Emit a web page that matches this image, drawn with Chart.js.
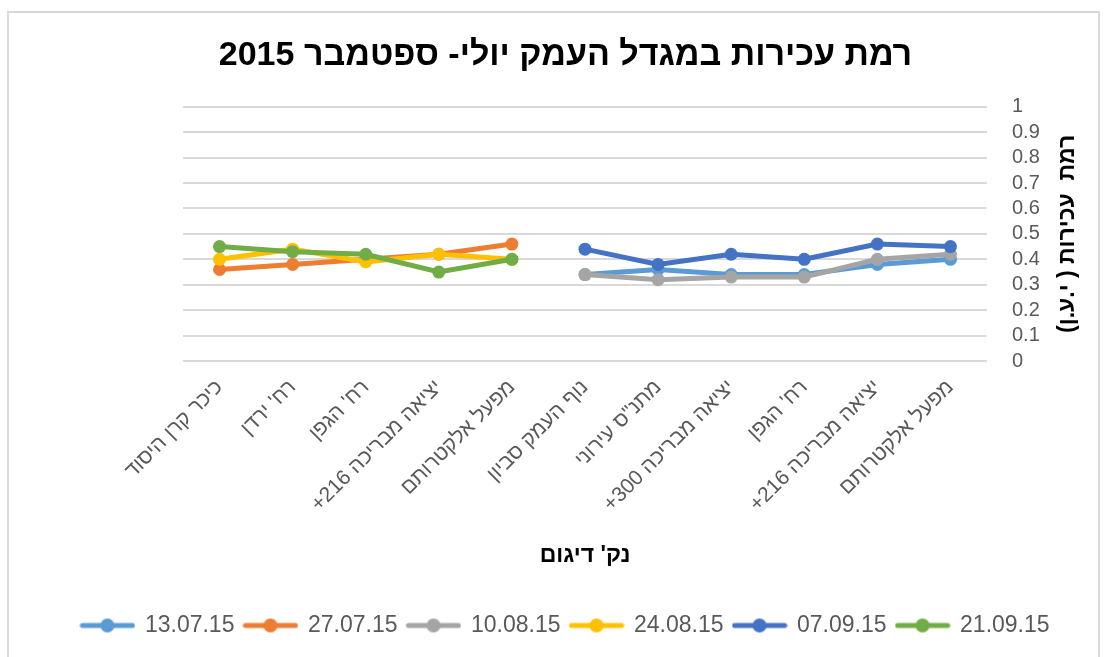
<!DOCTYPE html>
<html><head><meta charset="utf-8">
<script src="https://cdn.jsdelivr.net/npm/chart.js@4"></script>
<style>html,body{margin:0;padding:0;background:#fff}canvas{display:block}</style>
</head><body>
<canvas id="c" width="1107" height="657" dir="rtl"></canvas>
<script>
const categories = ["כיכר קרן היסוד", "רח' ירדן", "רח' הגפן", "יציאה מבריכה 216+", "מפעל אלקטרותם", "נוף העמק סביון", "מתנ\"ס עירוני", "יציאה מבריכה 300+", "רח' הגפן", "יציאה מבריכה 216+", "מפעל אלקטרותם"];
const seriesNames = ["13.07.15", "27.07.15", "10.08.15", "24.08.15", "07.09.15", "21.09.15"];
const s130715 = [null, null, null, null, null, 0.34, 0.36, 0.34, 0.34, 0.38, 0.40];
const s270715 = [0.36, 0.38, 0.40, 0.42, 0.46, null, null, null, null, null, null];
const s100815 = [null, null, null, null, null, 0.34, 0.32, 0.33, 0.33, 0.40, 0.42];
const s240815 = [0.40, 0.44, 0.39, 0.42, 0.40, null, null, null, null, null, null];
const s070915 = [null, null, null, null, null, 0.44, 0.38, 0.42, 0.40, 0.46, 0.45];
const s210915 = [0.45, 0.43, 0.42, 0.35, 0.40, null, null, null, null, null, null];
const yTickLabels = ["0", "0.1", "0.2", "0.3", "0.4", "0.5", "0.6", "0.7", "0.8", "0.9", "1"];
const chartTitle = "רמת עכירות במגדל העמק יולי- ספטמבר 2015";
const xTitle = "נק' דיגום";
const yTitle = "רמת  עכירות ( י.ע.ן)";

const seriesValues = [s130715, s270715, s100815, s240815, s070915, s210915];
const seriesColors = ["#5B9BD5", "#ED7D31", "#A5A5A5", "#FFC000", "#4472C4", "#70AD47"];
const FONT = "'Liberation Sans', Arial, 'DejaVu Sans', sans-serif";
const GRID = "#d9d9d9";
const TXT = "#595959";

function legendMarker(color) {
  const c = document.createElement('canvas');
  c.width = 56; c.height = 16;
  const g = c.getContext('2d');
  g.strokeStyle = color; g.lineWidth = 5; g.lineCap = 'round';
  g.beginPath(); g.moveTo(3, 8); g.lineTo(53, 8); g.stroke();
  g.fillStyle = color;
  g.beginPath(); g.arc(28, 8, 7, 0, Math.PI * 2); g.fill();
  return c;
}
const markers = seriesColors.map(legendMarker);

const frame = {
  id: 'frame',
  beforeDraw(chart) {
    const ctx = chart.ctx;
    ctx.save();
    ctx.fillStyle = '#fff';
    ctx.fillRect(0, 0, chart.width, chart.height);
    ctx.strokeStyle = GRID; ctx.lineWidth = 2;
    ctx.strokeRect(8, 12, 1091, 700);
    ctx.restore();
  },
  afterDraw(chart) {
    const ctx = chart.ctx, a = chart.chartArea;
    ctx.save();
    ctx.translate(1068, (a.top + a.bottom) / 2);
    ctx.rotate(-Math.PI / 2);
    ctx.font = "bold 23px " + FONT;
    ctx.fillStyle = '#000';
    ctx.textAlign = 'center';
    ctx.textBaseline = 'middle';
    ctx.fillText(yTitle, 0, 0);
    ctx.restore();
  }
};

new Chart(document.getElementById('c'), {
  type: 'line',
  data: {
    labels: categories,
    datasets: seriesValues.map((vals, i) => ({
      label: seriesNames[i],
      data: vals,
      borderColor: seriesColors[i],
      backgroundColor: seriesColors[i],
      pointBackgroundColor: seriesColors[i],
      pointBorderColor: seriesColors[i],
      borderWidth: 5,
      pointRadius: 6.5,
      pointBorderWidth: 0,
      tension: 0,
      spanGaps: false,
      order: seriesValues.length - i,
      yAxisID: 'y'
    }))
  },
  options: {
    responsive: false,
    animation: false,
    layout: { padding: { left: 24, right: 0, top: 0, bottom: 10 } },
    plugins: {
      tooltip: { enabled: false },
      title: {
        display: true, text: chartTitle, color: '#000',
        font: { family: FONT, size: 34, weight: 'bold' },
        padding: { top: 35, bottom: 31 }
      },
      legend: {
        position: 'bottom',
        labels: {
          color: TXT,
          font: { family: FONT, size: 23 },
          usePointStyle: true,
          pointStyleWidth: 52,
          padding: 10,
          generateLabels(chart) {
            return chart.data.datasets.map((ds, i) => ({
              text: ds.label,
              fillStyle: ds.borderColor,
              strokeStyle: ds.borderColor,
              fontColor: TXT,
              lineWidth: 0,
              pointStyle: markers[i],
              hidden: false,
              datasetIndex: i
            }));
          }
        }
      }
    },
    scales: {
      x: {
        type: 'category',
        offset: true,
        grid: { display: false },
        border: { display: false },
        ticks: {
          color: TXT, font: { family: FONT, size: 21 },
          minRotation: 45, maxRotation: 45, autoSkip: false, padding: 6
        },
        title: {
          display: true, text: xTitle, color: '#000',
          font: { family: FONT, size: 23, weight: 'bold' },
          padding: { top: 0, bottom: 35 }
        },
        afterFit(s) { s.height = 243; }
      },
      yl: {
        type: 'linear', position: 'left', display: true,
        grid: { display: false }, border: { display: false },
        ticks: { display: false },
        afterFit(s) { s.width = 159; }
      },
      y: {
        type: 'linear', position: 'right', min: 0, max: 1,
        grid: { color: GRID, lineWidth: 2, drawTicks: false },
        border: { display: false },
        ticks: {
          stepSize: 0.1, padding: 25, color: TXT, autoSkip: false,
          font: { family: FONT, size: 20 },
          callback: (v, i) => yTickLabels[i]
        },
        afterFit(s) { s.width = 120; }
      }
    }
  },
  plugins: [frame]
});
</script>
</body></html>
